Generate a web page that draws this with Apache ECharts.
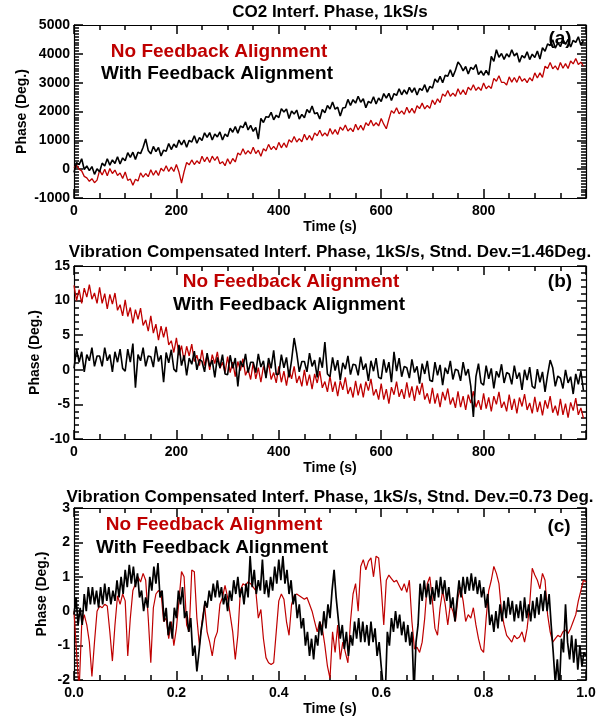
<!DOCTYPE html>
<html>
<head>
<meta charset="utf-8">
<script src="https://cdn.jsdelivr.net/npm/echarts@6/dist/echarts.min.js"></script>
<style>
html,body{margin:0;padding:0;background:#fff;}
#chart{width:603px;height:717px;}
</style>
</head>
<body>
<div id="chart"></div>
<script>
// ---------- Panel (a): CO2 interferometer phase, sampled every 5 s ----------
const stepA = 5;
const redA = [
  50, 140, 0, -60, -250, -300, -420, -330, -470, -380,
  -40, -200, 0, -230, 20, -150, -30, -220, -130, -320,
  -100, -390, -340, -560, -350, -410, -130, -280, -150, -260,
  -20, -210, -50, -220, 30, -70, 120, -80, 70, -80,
  160, -100, -480, -90, 230, 150, 320, 160, 290, 190,
  450, 260, 420, 230, 450, 300, 440, 190, 260, 120,
  360, 180, 370, 250, 560, 490, 710, 520, 640, 530,
  760, 540, 660, 450, 710, 630, 860, 680, 790, 670,
  930, 740, 910, 750, 1020, 930, 1130, 940, 1060, 950,
  1210, 1010, 1170, 1000, 1260, 1160, 1350, 1150, 1260, 1150,
  1410, 1210, 1370, 1200, 1460, 1350, 1530, 1320, 1420, 1300,
  1560, 1360, 1520, 1350, 1610, 1510, 1700, 1500, 1610, 1500,
  1760, 1560, 1400, 1730, 2030, 1940, 2130, 1920, 2020, 1900,
  2150, 1950, 2110, 1940, 2200, 2100, 2290, 2090, 2210, 2110,
  2400, 2240, 2440, 2310, 2610, 2530, 2730, 2530, 2640, 2530,
  2790, 2590, 2750, 2580, 2840, 2740, 2930, 2730, 2840, 2730,
  2990, 2790, 2890, 2800, 3150, 3050, 3240, 3010, 3010, 2920,
  3200, 3020, 3180, 3010, 3230, 3050, 3140, 3000, 3170, 3060,
  3340, 3160, 3340, 3180, 3570, 3490, 3700, 3480, 3580, 3440,
  3700, 3500, 3660, 3490, 3750, 3650, 3840, 3630, 3710, 3570
];
const blackA = [
  -110, 230, 160, 360, -10, 110, -50, 90, -180, 10,
  -90, 210, 110, 360, 140, 320, 200, 430, 180, 390,
  290, 570, 410, 590, 340, 590, 540, 760, 1050, 650,
  530, 790, 610, 750, 460, 660, 620, 890, 680, 870,
  750, 1010, 840, 1010, 760, 1000, 940, 1160, 900, 1100,
  990, 1260, 1100, 1270, 1010, 1220, 1120, 1290, 1010, 1220,
  1130, 1420, 1280, 1480, 1250, 1500, 1440, 1640, 1360, 1520,
  1310, 1450, 1040, 1760, 1620, 1820, 1800, 1970, 1710, 1870,
  1790, 2100, 1980, 2090, 1760, 2020, 1910, 2050, 1740, 1900,
  1780, 2070, 1960, 2190, 1920, 1960, 1740, 2070, 1960, 2210,
  2090, 2330, 2080, 2150, 1840, 2120, 2140, 2420, 2210, 2410,
  2290, 2530, 2320, 2440, 2130, 2350, 2290, 2510, 2260, 2470,
  2350, 2620, 2460, 2630, 2380, 2620, 2560, 2790, 2580, 2750,
  2600, 2840, 2660, 2820, 2570, 2800, 2730, 2930, 2670, 2870,
  2810, 3130, 3010, 3220, 3000, 3260, 3220, 3450, 3210, 3430,
  3720, 3600, 3410, 3560, 3300, 3530, 3460, 3630, 3280, 3410,
  3250, 3430, 3260, 3910, 3740, 4140, 3880, 4010, 3810, 4000,
  3890, 4140, 3930, 4030, 3710, 3940, 3860, 4070, 3800, 3990,
  3870, 4100, 3820, 4210, 4090, 4340, 4290, 4490, 4200, 4380,
  4250, 4500, 4330, 4500, 4240, 4470, 4400, 4590, 4300, 4470
];

// ---------- Panel (b): vibration compensated phase, every 5 s ----------
const stepB = 5;
const redB = [
  12.2, 10.0, 11.6, 9.6, 11.8, 10.5, 12.3, 10.2, 11.1, 9.6,
  11.9, 9.6, 11.0, 8.8, 10.9, 9.5, 11.1, 8.6, 9.4, 7.8,
  10.1, 7.7, 9.0, 6.7, 8.7, 7.3, 8.9, 6.4, 7.2, 5.6,
  7.8, 5.3, 6.6, 4.3, 6.3, 4.7, 6.2, 3.6, 4.2, 2.5,
  4.6, 2.1, 3.5, 1.3, 3.4, 2.0, 3.7, 1.2, 2.1, 0.6,
  2.9, 0.6, 2.1, 0.0, 2.2, 0.9, 2.6, 0.2, 1.1, -0.4,
  1.9, -0.4, 1.1, -1.0, 1.2, -0.1, 1.6, -0.8, 0.1, -1.4,
  1.0, -1.3, 0.3, -1.8, 0.5, -0.8, 1.0, -1.4, -0.4, -1.9,
  0.5, -1.8, -0.2, -2.3, 0.0, -1.3, 0.5, -1.9, -0.9, -2.4,
  0.0, -2.3, -0.7, -2.8, -0.6, -1.9, -0.2, -2.6, -1.7, -3.2,
  -0.9, -3.2, -1.7, -3.8, -1.6, -2.9, -1.1, -3.5, -2.5, -4.0,
  -1.6, -3.7, -2.0, -4.0, -1.7, -3.0, -1.3, -3.7, -2.8, -4.3,
  -2.0, -4.3, -2.8, -4.9, -2.5, -3.6, -1.7, -3.9, -2.8, -4.2,
  -1.8, -4.0, -2.4, -4.5, -2.3, -3.6, -1.9, -4.3, -3.4, -4.9,
  -2.6, -4.9, -3.4, -5.4, -3.2, -4.4, -2.7, -5.0, -4.0, -5.5,
  -3.1, -5.4, -3.8, -5.8, -3.6, -4.8, -3.1, -5.4, -4.4, -5.8,
  -3.4, -5.6, -4.0, -6.0, -3.8, -5.0, -3.2, -5.5, -4.6, -6.0,
  -3.6, -5.8, -4.2, -6.3, -4.0, -5.3, -3.5, -5.8, -4.8, -6.3,
  -3.9, -6.1, -4.6, -6.6, -4.4, -5.6, -3.8, -6.2, -5.2, -6.6,
  -4.2, -6.5, -4.9, -6.9, -4.7, -5.9, -4.1, -6.5, -5.5, -7.0
];
const blackB = [
  0.2, 3.0, 1.1, 2.6, -0.3, 2.2, 1.3, 3.2, 0.5, 2.0,
  2.0, 0.5, 3.2, 1.3, 2.2, -0.3, 2.6, 1.1, 3.0, 0.2,
  -0.2, 3.0, 1.1, 3.8, -2.6, 2.2, 1.3, 3.2, 0.5, 2.0,
  1.9, 0.4, 3.4, 1.2, 2.1, -1.8, 2.5, 1.0, 2.9, 0.1,
  -0.3, 3.6, 0.6, 2.1, -0.8, 1.7, 0.8, 2.7, 0.0, 1.5,
  1.2, -0.3, 2.4, 0.5, 1.4, -1.1, 1.8, 0.3, 2.2, -0.6,
  -0.7, 2.1, 0.2, 1.7, -2.4, 1.3, 0.4, 2.3, -0.4, 1.1,
  1.1, -0.4, 2.3, 0.4, 1.3, -1.2, 1.7, 0.2, 2.8, -0.7,
  -0.6, 2.2, 0.3, 1.8, -1.1, 1.4, 4.6, 2.4, -0.3, 1.2,
  1.2, -0.3, 2.4, 0.5, 1.4, -1.1, 1.8, 0.3, 4.0, -0.6,
  -1.0, 1.8, -0.1, 1.4, -1.5, 1.0, 0.1, 2.0, -0.7, 0.8,
  0.7, -0.8, 1.9, 0.0, 0.9, -1.6, 1.3, -0.2, 1.7, -1.1,
  -1.3, 1.5, -0.4, 1.1, -1.8, 2.6, -0.2, 1.7, -1.0, 0.5,
  0.3, -1.2, 1.5, -0.4, 0.5, -2.0, 0.9, -0.6, 1.3, -1.5,
  -1.7, 1.1, -0.8, 0.7, -2.2, 0.3, -0.6, 1.3, -1.4, 0.1,
  -0.1, -1.6, 1.1, -0.8, 0.1, -2.4, -6.8, -1.0, 0.9, -1.9,
  -2.2, 0.6, -1.3, 0.2, -2.7, -0.2, -1.1, 0.8, -1.9, -0.4,
  -0.6, -2.1, 0.6, -1.3, -0.4, -2.9, 0.0, -1.5, 0.4, -2.4,
  -2.7, 0.1, -1.8, -0.3, -3.2, -0.7, 1.4, 0.3, -2.4, -0.9,
  -1.2, -2.7, 0.0, -1.9, -1.0, -3.5, -0.6, -2.1, -0.2, -3.0
];

// ---------- Panel (c): one second of data ----------
const stepRedC = 0.005;
const redC = [
  0.0, -1.2, -2.3, -0.4, -0.1, -0.4, -0.9, -1.9, -0.9, 0.0,
  0.15, 0.1, 0.2, 0.15, -0.6, -1.45, -0.4, 0.45, 0.2, 0.5,
  0.3, -1.3, -0.2, 0.6, 0.8, 1.0, 0.85, 1.1, 0.9, -0.2,
  -1.5, 0.1, 0.5, 0.6, 0.55, -0.3, -0.2, -0.8, -0.3, -1.0,
  -0.5, 0.3, 1.15, 1.0, -0.4, -0.6, 1.2, 1.15, -0.2, -1.0,
  -0.3, 0.2, -0.6, -0.9, -1.3, -0.8, -0.6, 0.2, 0.4, 0.75,
  0.4, -0.1, -0.6, -1.4, -0.7, 0.6, 0.8, 0.75, 0.85, 0.8,
  0.7, 0.6, -0.2, 0.05, -0.8, -1.35, -1.5, -1.55, -1.5, -0.6,
  0.3, 0.5, 0.35, -0.3, -0.7, 0.2, 0.45, 0.5, 0.45, 0.4,
  0.35, 0.4, 0.2, 0.0, -0.3, -0.6, -0.3, -0.5, -1.0, -1.6,
  -1.95, -0.6, -1.2, -0.4, -1.4, -0.9, -1.2, -1.5, -0.3, 0.5,
  0.8, 0.0, 1.3, 1.5, 1.2, 1.45, 1.55, 1.0, 1.6, 1.55,
  0.7, -0.4, 0.9, 1.05, 0.95, 0.85, 0.9, 0.75, 0.6, 0.8,
  0.55, 0.9, -0.3, -1.1, -1.05, -1.2, -0.9, -0.2, 0.8, 1.0,
  0.3, -0.5, -0.7, 0.1, 0.6, 0.2, -0.4, 0.2, 0.0, -0.3,
  0.4, 0.7, 0.3, -0.3, -0.1, -0.2, 0.1, -0.4, -0.8, -1.1,
  -1.2, -0.2, 0.6, 0.9, 1.3, 1.1, 0.8, 0.0, -0.4, -0.7,
  -0.8, -0.9, -0.7, -0.8, -0.75, -0.6, -0.9, -0.5, 0.2, 1.25,
  1.05, 0.9, 0.65, 1.1, 0.9, -0.1, -0.6, -0.9, -0.8, -0.7,
  -0.75, -0.6, -0.55, -0.65, -0.5, -0.3, -0.1, 0.3, 0.6, 0.9,
  0.85
];
const stepBlackC = 0.004;
const blackC = [
  -0.1, 0.4, -0.4, 0.1, -0.4, 0.5, 0.0, 0.7, 0.2, 0.7,
  0.2, 0.6, 0.1, 0.7, 0.2, 0.8, 0.3, 0.7, 0.2, 0.6,
  0.3, 0.9, 0.4, 1.0, 0.5, 1.2, 0.7, 1.35, 0.8, 1.3,
  0.7, 1.1, 0.4, 0.6, 0.0, 0.4, 0.1, 1.0, 0.6, 1.3,
  0.8, 1.4, 0.4, 0.6, -0.3, 0.1, -0.7, -0.3, -0.8, 0.1,
  -0.2, 0.6, 0.2, 0.7, -0.2, 0.0, -0.6, -0.2, -1.3, -1.0,
  -1.75, -1.2, -0.6, -0.2, 0.3, 0.1, 0.6, 0.3, 0.8, 0.4,
  0.9, 0.4, 0.7, 0.2, 0.5, 0.0, 0.6, 0.3, 0.9, 0.5,
  1.0, 0.4, 0.7, 0.2, 0.8, 0.4, 1.6, 0.7, 1.2, 0.5,
  0.9, 0.6, 1.5, 0.5, 0.9, 0.4, 1.0, 0.6, 1.3, 0.8,
  1.5, 0.9, 1.6, 0.8, 1.2, 0.5, 0.9, 0.2, 0.5, -0.2,
  0.2, -0.5, -0.2, -1.0, -0.6, -1.3, -0.8, -1.4, -0.7, -1.0,
  -0.3, -0.7, 0.0, -0.5, 0.2, -0.2, 0.6, 1.2, 0.4, -0.2,
  -0.8, -0.4, -1.1, -0.6, -1.3, -0.7, -1.0, -0.3, -0.8, -0.2,
  -0.9, -0.3, -0.9, -0.4, -1.0, -0.3, -0.9, -0.5, -1.3, -0.9,
  -1.6, -2.2, -2.4, -0.6, -1.0, -0.2, -0.6, 0.0, -0.5, -0.1,
  -0.7, -0.3, -0.9, -0.4, -1.0, -0.6, -2.4, -0.9, -0.4, 0.8,
  0.3, 0.9, 0.4, 0.8, 0.2, 0.7, 0.3, 0.9, 0.4, 1.0,
  0.5, 0.9, 0.3, 0.7, 0.1, 0.4, -0.3, 0.3, 0.9, 0.4,
  1.0, 0.5, 1.0, 0.6, 1.1, 0.6, 1.0, 0.5, 0.9, 0.4,
  0.7, 0.1, 0.5, -0.4, -0.1, -0.6, 0.0, -0.5, 0.2, -0.3,
  0.3, -0.2, 0.4, -0.1, 0.3, -0.3, 0.2, -0.2, 0.3, -0.3,
  0.4, -0.2, 0.2, -0.3, 0.3, -0.2, 0.4, -0.1, 0.5, 0.0,
  0.6, 0.0, 0.5, -0.4, -1.2, -2.1, -1.4, -2.3, -0.8, -1.2,
  0.2, -0.9, -1.4, -0.7, -1.5, -0.8, -1.7, -1.0, -1.6, -1.2,
  -1.3
];

// ---------- Text ----------
const titles = [
  'CO2 Interf. Phase, 1kS/s',
  'Vibration Compensated Interf. Phase, 1kS/s, Stnd. Dev.=1.46Deg.',
  'Vibration Compensated Interf. Phase, 1kS/s, Stnd. Dev.=0.73 Deg.'
];
const panelTags = ['(a)', '(b)', '(c)'];
const redLabel = 'No Feedback Alignment';
const blackLabel = 'With Feedback Alignment';
const yName = 'Phase (Deg.)';
const xName = 'Time (s)';

// ---------- Styling / layout ----------
const FONT = '"Liberation Sans", Arial, Helvetica, sans-serif';
const RED = '#bf0000';
const BLACK = '#000000';
const gridTops = [25, 266, 508];
const gridH = 173;

function toPairs(arr, dt) { return arr.map((v, i) => [+(i * dt).toFixed(4), v]); }
function lineCfg() { return { show: true, onZero: false, lineStyle: { color: '#000', width: 1.2 } }; }
function tickCfg(len, split) {
  const o = { show: true, length: len, lineStyle: { color: '#000', width: 1.5 } };
  if (split) o.splitNumber = split; else o.inside = true;
  return o;
}
function textCfg() { return { color: '#000', fontFamily: FONT, fontWeight: 'bold', fontSize: 14 }; }

function xAx(grid, pos, min, max, interval, fmt) {
  const bottom = pos === 'bottom';
  return {
    type: 'value', gridIndex: grid, position: pos, min: min, max: max, interval: interval,
    axisLine: lineCfg(),
    axisTick: tickCfg(9),
    minorTick: tickCfg(5, 4),
    splitLine: { show: false }, minorSplitLine: { show: false },
    axisLabel: bottom ? Object.assign({ show: true, margin: 6, formatter: fmt }, textCfg()) : { show: false },
    name: bottom ? xName : '', nameLocation: 'middle', nameGap: 22, nameMoveOverlap: false,
    nameTextStyle: textCfg()
  };
}
function yAx(grid, pos, min, max, interval, minorSplit, nameGap) {
  const left = pos === 'left';
  return {
    type: 'value', gridIndex: grid, position: pos, min: min, max: max, interval: interval,
    axisLine: lineCfg(),
    axisTick: tickCfg(9),
    minorTick: tickCfg(5, minorSplit),
    splitLine: { show: false }, minorSplitLine: { show: false },
    axisLabel: left ? Object.assign({ show: true, margin: 4, formatter: v => String(v) }, textCfg()) : { show: false },
    name: left ? yName : '', nameLocation: 'middle', nameGap: nameGap || 30, nameMoveOverlap: false,
    nameTextStyle: textCfg()
  };
}
const fmtSec = v => (v >= 1000 ? '' : String(v));
const fmtC = v => v.toFixed(1);

function lineSeries(xi, arr, dt, color, width) {
  return { type: 'line', xAxisIndex: xi, yAxisIndex: xi, data: toPairs(arr, dt), showSymbol: false, symbol: 'none',
    lineStyle: { color: color, width: width }, itemStyle: { color: color }, clip: true, silent: true };
}
function txt(x, y, s, size, color) {
  return { type: 'text', x: x, y: y, style: { text: s, font: 'bold ' + size + 'px ' + FONT, fill: color, align: 'center', verticalAlign: 'middle' } };
}

const option = {
  animation: false,
  backgroundColor: '#fff',
  grid: gridTops.map(t => ({ left: 74, right: 17, top: t, height: gridH, containLabel: false })),
  xAxis: [
    xAx(0, 'bottom', 0, 1000, 200, fmtSec),
    xAx(0, 'top', 0, 1000, 200, null),
    xAx(1, 'bottom', 0, 1000, 200, fmtSec),
    xAx(1, 'top', 0, 1000, 200, null),
    xAx(2, 'bottom', 0, 1, 0.2, fmtC),
    xAx(2, 'top', 0, 1, 0.2, null)
  ],
  yAxis: [
    yAx(0, 'left', -1000, 5000, 1000, 10, 45),
    yAx(0, 'right', -1000, 5000, 1000, 10),
    yAx(1, 'left', -10, 15, 5, 5, 32),
    yAx(1, 'right', -10, 15, 5, 5),
    yAx(2, 'left', -2, 3, 1, 10, 25),
    yAx(2, 'right', -2, 3, 1, 10)
  ],
  series: [
    lineSeries(0, redA, stepA, RED, 1.3),
    lineSeries(0, blackA, stepA, BLACK, 1.6),
    lineSeries(2, redB, stepB, RED, 1.3),
    lineSeries(2, blackB, stepB, BLACK, 1.6),
    lineSeries(4, redC, stepRedC, RED, 1.2),
    lineSeries(4, blackC, stepBlackC, BLACK, 1.7)
  ],
  graphic: [
    txt(330, 12, titles[0], 17, '#000'),
    txt(330, 252, titles[1], 17, '#000'),
    txt(330, 497, titles[2], 17, '#000'),
    txt(219, 52, redLabel, 19, RED),
    txt(217, 74, blackLabel, 19, '#000'),
    txt(291, 282, redLabel, 19, RED),
    txt(289, 305, blackLabel, 19, '#000'),
    txt(214, 525, redLabel, 19, RED),
    txt(212, 548, blackLabel, 19, '#000'),
    txt(560, 39, panelTags[0], 19, '#000'),
    txt(560, 282, panelTags[1], 19, '#000'),
    txt(559, 527, panelTags[2], 19, '#000')
  ]
};

const chart = echarts.init(document.getElementById('chart'), null, { renderer: 'canvas' });
chart.setOption(option);
</script>
</body>
</html>
